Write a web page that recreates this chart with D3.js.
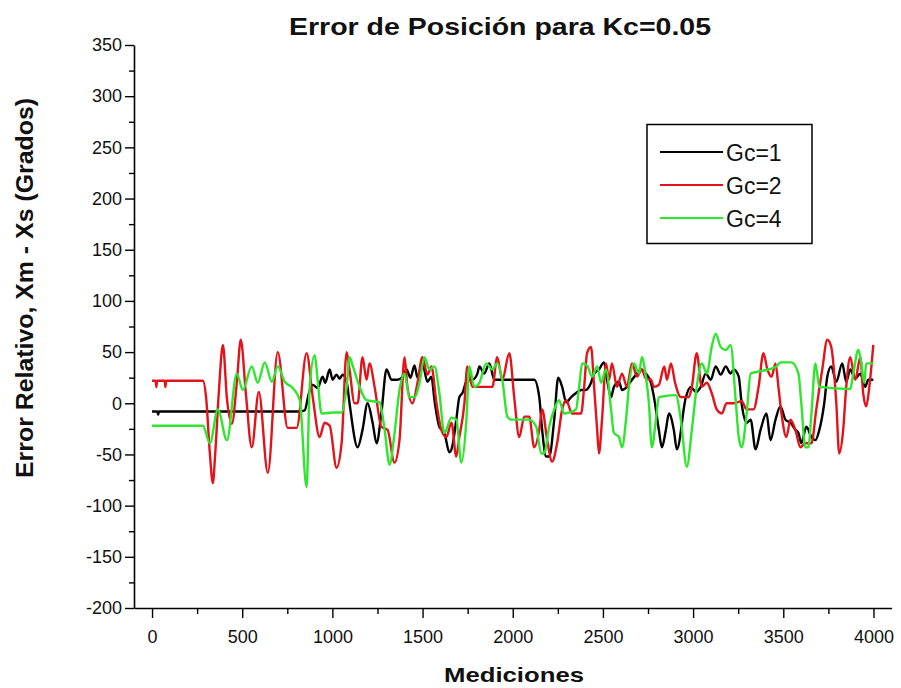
<!DOCTYPE html>
<html><head><meta charset="utf-8">
<script src="https://cdn.jsdelivr.net/npm/d3@7"></script>
<style>body{margin:0;background:#fff}svg{display:block}</style>
</head><body>
<svg id="c" width="901" height="688"></svg>
<script>
const title = "Error de Posición para Kc=0.05";
const xLabel = "Mediciones";
const yLabel = "Error Relativo, Xm - Xs (Grados)";
const seriesNames = ["Gc=1", "Gc=2", "Gc=4"];
const xTicks = [0,500,1000,1500,2000,2500,3000,3500,4000];
const yTicks = [-200,-150,-100,-50,0,50,100,150,200,250,300,350];

const gc1 = [[0,-8],[30,-8],[34,-11],[38,-8],[820,-8],[846,-7],[870,10],[891,18],[918,15],[946,26],[960,20],[985,33],[1001,23],[1023,28],[1040,24],[1057,28],[1080,20],[1095,0],[1140,-43],[1167,-26],[1195,0],[1223,-19],[1245,-39],[1272,-9],[1300,33],[1328,23],[1361,23],[1389,26],[1411,33],[1433,25],[1455,37],[1472,25],[1499,39],[1527,21],[1549,26],[1566,3],[1593,-23],[1621,-29],[1649,-48],[1665,-42],[1687,-16],[1704,6],[1721,10],[1748,23],[1776,23],[1804,29],[1815,36],[1842,29],[1870,39],[1898,23],[1953,23],[2119,23],[2147,6],[2163,-26],[2185,-52],[2202,-52],[2230,-16],[2252,25],[2274,16],[2296,1],[2324,6],[2351,10],[2379,13],[2405,13],[2434,20],[2451,29],[2478,33],[2506,40],[2523,23],[2545,6],[2561,16],[2589,21],[2606,13],[2633,16],[2661,23],[2689,29],[2711,33],[2738,29],[2766,20],[2783,6],[2810,-26],[2827,-43],[2849,-26],[2866,-10],[2893,-26],[2910,-45],[2960,6],[2987,16],[3015,11],[3042,16],[3070,29],[3098,23],[3125,36],[3153,28],[3181,36],[3208,29],[3225,33],[3253,26],[3269,0],[3297,-19],[3319,-16],[3346,-45],[3374,-26],[3407,-10],[3429,-36],[3457,-16],[3484,-3],[3512,-16],[3540,-19],[3567,-26],[3584,-29],[3600,-39],[3628,-23],[3656,-33],[3678,-36],[3700,-26],[3727,0],[3744,26],[3766,36],[3794,21],[3827,39],[3849,21],[3871,33],[3899,24],[3927,29],[3954,16],[3971,23],[3999,23]];

const gc2 = [[0,22],[20,22],[24,16],[28,22],[70,22],[74,16],[78,22],[282,22],[300,5],[321,-50],[337,-78],[350,-50],[370,10],[393,57],[415,5],[443,-20],[470,20],[492,62],[520,10],[553,-43],[592,11],[642,-68],[697,50],[752,-24],[802,-24],[857,49],[891,6],[929,-33],[957,-19],[985,-22],[1023,-63],[1051,-39],[1079,50],[1095,33],[1123,0],[1140,0],[1167,45],[1189,23],[1206,39],[1234,16],[1272,-23],[1306,-26],[1344,-58],[1372,-36],[1400,45],[1416,16],[1444,0],[1472,20],[1499,45],[1527,28],[1549,36],[1577,0],[1604,-26],[1632,-33],[1660,-19],[1687,-52],[1704,-33],[1732,0],[1748,36],[1776,16],[1815,16],[1887,16],[1914,45],[1942,23],[1981,49],[2008,6],[2036,-33],[2064,-13],[2091,-13],[2119,-43],[2147,-26],[2163,-6],[2191,-36],[2218,-57],[2246,-39],[2274,-6],[2296,3],[2329,-10],[2379,-10],[2396,16],[2412,49],[2434,55],[2451,16],[2468,-26],[2478,-49],[2495,-16],[2517,39],[2534,23],[2550,39],[2578,16],[2606,29],[2633,16],[2661,39],[2689,26],[2716,33],[2738,24],[2766,23],[2783,16],[2810,18],[2840,36],[2855,23],[2877,39],[2900,20],[2932,6],[2976,6],[2993,16],[3020,49],[3048,16],[3076,20],[3103,10],[3131,-6],[3159,-10],[3186,0],[3225,0],[3269,2],[3297,-6],[3335,-6],[3363,16],[3390,49],[3412,33],[3435,26],[3457,39],[3473,16],[3490,-10],[3517,-33],[3540,-16],[3567,-26],[3595,-43],[3622,-39],[3656,-39],[3683,-6],[3716,33],[3744,62],[3766,55],[3794,0],[3810,-49],[3832,-26],[3849,16],[3871,45],[3899,23],[3927,45],[3943,10],[3960,-3],[3977,16],[3999,57]];

const gc4 = [[0,-22],[282,-22],[321,-39],[365,-6],[415,-36],[470,29],[503,13],[553,36],[586,20],[625,40],[664,21],[697,36],[736,21],[780,15],[819,3],[857,-82],[874,16],[902,47],[918,23],[940,-10],[1001,-9],[1051,-9],[1079,16],[1095,45],[1112,37],[1151,16],[1189,3],[1261,1],[1289,-25],[1317,-60],[1344,-30],[1372,13],[1400,29],[1427,6],[1455,6],[1483,20],[1510,45],[1538,33],[1566,36],[1593,10],[1621,-29],[1660,-14],[1687,-16],[1715,-58],[1743,-16],[1759,36],[1787,16],[1815,20],[1853,39],[1887,33],[1914,39],[1942,23],[1970,-13],[1992,-16],[2053,-16],[2091,-16],[2130,-23],[2158,-49],[2174,-49],[2202,-23],[2230,-6],[2257,3],[2285,-10],[2313,-9],[2351,-6],[2368,16],[2385,39],[2412,37],[2440,26],[2468,36],[2490,20],[2517,33],[2545,-6],[2561,-29],[2589,-33],[2606,-43],[2628,-16],[2644,16],[2672,39],[2700,29],[2716,45],[2738,26],[2755,0],[2771,-43],[2794,-16],[2810,6],[2904,8],[2932,-16],[2965,-62],[2993,-26],[3020,16],[3048,39],[3076,29],[3103,55],[3125,68],[3153,55],[3181,52],[3208,57],[3236,3],[3253,-33],[3269,-43],[3297,-10],[3319,29],[3363,31],[3418,33],[3462,36],[3484,40],[3545,40],[3584,29],[3600,0],[3622,-43],[3639,-43],[3656,-10],[3678,39],[3700,16],[3871,14],[3888,29],[3916,52],[3932,40],[3949,20],[3960,39],[3999,39]];

const colors = ["#000000", "#e3131b", "#2ee62e"];
const series = [gc1, gc2, gc4];

const svg = d3.select("#c");
const x = d3.scaleLinear().domain([-100, 4100]).range([134, 891.5]);
const y = d3.scaleLinear().domain([-200, 350]).range([608, 45]);
const font = "'Liberation Sans', Arial, sans-serif";
const fmt = d => String(d);

// minor ticks
const xMinor = d3.range(250, 4000, 500);
const yMinor = d3.range(-175, 350, 50);

const gx = svg.append("g").attr("transform", "translate(0,608)");
gx.call(d3.axisBottom(x).tickValues(xTicks).tickSize(10).tickPadding(12).tickSizeOuter(0).tickFormat(fmt));
gx.append("g").call(d3.axisBottom(x).tickValues(xMinor).tickSize(6).tickSizeOuter(0).tickFormat(""))
  .select(".domain").remove();
const gy = svg.append("g").attr("transform", "translate(134,0)");
gy.call(d3.axisLeft(y).tickValues(yTicks).tickSize(9).tickPadding(3).tickSizeOuter(0).tickFormat(fmt));
gy.append("g").call(d3.axisLeft(y).tickValues(yMinor).tickSize(5).tickSizeOuter(0).tickFormat(""))
  .select(".domain").remove();

svg.selectAll(".domain").attr("stroke", "#000").attr("stroke-width", 1.6);
svg.selectAll(".tick line").attr("stroke", "#000").attr("stroke-width", 1.4);
svg.selectAll(".tick text").attr("font-family", font).attr("font-size", 18).attr("fill", "#111");

const line = d3.line().x(d => x(d[0])).y(d => y(d[1])).curve(d3.curveMonotoneX);
series.forEach((s, i) => {
  svg.append("path").datum(s).attr("d", line).attr("fill", "none")
    .attr("stroke", colors[i]).attr("stroke-width", 2.4).attr("stroke-linejoin", "round");
});

// legend
const lg = svg.append("g");
lg.append("rect").attr("x", 647).attr("y", 124.5).attr("width", 165).attr("height", 119)
  .attr("fill", "#fff").attr("stroke", "#000").attr("stroke-width", 1.5);
seriesNames.forEach((n, i) => {
  const yy = 152 + i * 33;
  lg.append("line").attr("x1", 660).attr("x2", 723).attr("y1", yy).attr("y2", yy)
    .attr("stroke", colors[i]).attr("stroke-width", 2.2);
  lg.append("text").attr("x", 726).attr("y", yy + 9).attr("font-family", font)
    .attr("font-size", 23).attr("fill", "#111").text(n);
});

svg.append("text").attr("x", 500).attr("y", 35).attr("text-anchor", "middle")
  .attr("font-family", font).attr("font-weight", "bold").attr("font-size", 24)
  .attr("textLength", 422).attr("lengthAdjust", "spacingAndGlyphs").attr("fill", "#111").text(title);
svg.append("text").attr("x", 514).attr("y", 682).attr("text-anchor", "middle")
  .attr("font-family", font).attr("font-weight", "bold").attr("font-size", 21)
  .attr("textLength", 140).attr("lengthAdjust", "spacingAndGlyphs").attr("fill", "#111").text(xLabel);
svg.append("text").attr("transform", "translate(33,288) rotate(-90)").attr("text-anchor", "middle")
  .attr("font-family", font).attr("font-weight", "bold").attr("font-size", 23)
  .attr("textLength", 380).attr("lengthAdjust", "spacingAndGlyphs").attr("fill", "#111").text(yLabel);
</script>
</body></html>
